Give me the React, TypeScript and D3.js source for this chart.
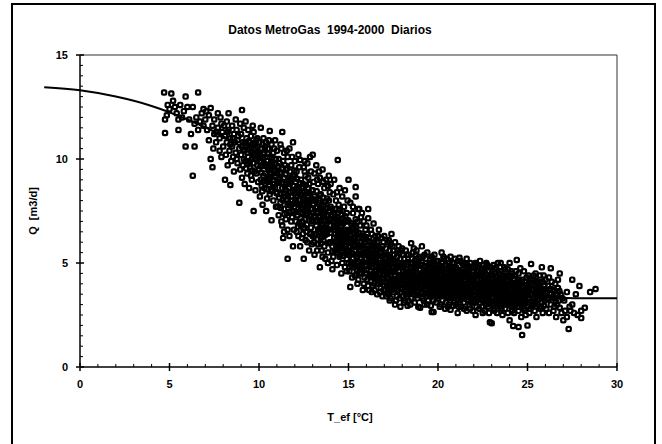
import React from "react";
import * as d3 from "d3";

const coolDays: number[][] = [
  [4.7,13.2],[4.75,11.9],[4.75,11.25],[4.9,12.6],[5.0,12.4],[4.85,12.1],
  [5.1,13.15],[5.2,12.8],[5.3,12.5],[5.4,12.2],[5.5,11.9],[5.6,12.6],[5.7,12.0],[5.9,13.0],[5.9,10.6],[5.8,12.3],[5.5,11.4],
  [6.0,12.5],[6.3,12.5],[6.2,11.2],[6.4,10.6],[6.3,9.2],[6.6,13.2],[6.5,12.0],[6.7,11.8],[6.8,12.2],[6.9,11.6],[6.1,11.9],[6.4,11.7],[6.6,11.4],[6.9,12.4],
  [7.0,11.9],[7.1,11.4],[7.2,12.1],[7.3,12.45],[7.3,10.0],[7.4,9.6],[7.4,11.6],[7.5,11.2],[7.5,11.9],[7.6,10.8],[7.7,11.5],[7.7,12.2],[7.8,11.0],[7.8,10.4],[7.9,11.7],[7.9,10.1],[7.2,10.9],[7.6,11.3],[7.95,11.3],[7.05,12.3],[7.45,10.5],[7.85,12.0],
  [8.0,10.6],[8.05,11.6],[8.1,9.0],[8.1,11.1],[8.15,10.2],[8.2,11.8],[8.2,10.8],[8.25,9.7],[8.3,12.2],[8.3,11.4],[8.35,10.4],[8.4,8.75],[8.4,11.0],[8.45,9.9],[8.5,11.6],[8.5,10.6],[8.55,10.1],[8.6,11.2],[8.6,9.4],[8.65,10.8],[8.7,11.9],[8.7,10.3],[8.75,11.4],[8.8,9.8],[8.8,10.9],[8.85,11.1],[8.9,7.9],[8.9,10.5],[8.95,11.7],[8.95,9.5],[8.25,11.3],[8.55,11.0],[8.75,10.0],[8.4,10.7],
  [9.0,11.2],[9.0,10.2],[9.05,12.35],[9.05,9.1],[9.1,10.8],[9.1,9.7],[9.15,11.5],[9.2,10.4],[9.2,8.8],[9.25,9.9],[9.3,11.0],[9.3,10.6],[9.35,9.3],[9.4,11.4],[9.4,10.1],[9.45,8.6],[9.5,10.8],[9.5,9.6],[9.55,11.1],[9.6,10.3],[9.6,9.0],[9.65,10.7],[9.7,7.5],[9.7,9.8],[9.7,11.3],[9.75,10.0],[9.8,8.5],[9.8,10.5],[9.85,9.3],[9.9,11.0],[9.9,9.7],[9.95,10.2],[9.95,8.9],[9.15,10.0],[9.35,10.3],[9.55,9.2],[9.65,11.6],[9.85,10.9],[9.25,11.8],[9.45,10.5],[9.75,9.4],[9.05,10.6],[9.6,10.0],[9.9,10.6],
];

const mildDays: number[][] = [
  [10.0,9.5],[10.0,10.8],[10.05,8.2],[10.1,11.5],[10.1,10.1],[10.1,9.0],[10.15,10.5],[10.2,7.8],[10.2,9.7],[10.25,11.0],[10.3,8.6],[10.3,10.3],[10.35,9.3],[10.4,10.8],[10.4,7.5],[10.45,9.9],[10.5,8.9],[10.5,10.5],[10.55,9.5],[10.6,11.35],[10.6,8.3],[10.6,10.1],[10.65,9.1],[10.7,7.05],[10.7,10.7],[10.75,9.7],[10.8,8.0],[10.8,10.3],[10.85,8.8],[10.9,9.4],[10.9,10.9],[10.95,7.7],[10.95,10.0],[10.05,9.9],[10.15,8.7],[10.35,10.6],[10.45,8.1],[10.55,10.9],[10.65,9.8],[10.75,8.5],[10.85,10.5],[10.25,9.2],[10.5,9.6],[10.7,9.3],[10.9,8.6],[10.2,10.7],[10.4,9.0],[10.8,9.0],[10.3,9.8],[10.6,9.7],
  [11.0,10.4],[11.0,8.4],[11.05,9.6],[11.1,7.3],[11.1,10.0],[11.15,8.9],[11.2,10.7],[11.2,7.9],[11.25,9.3],[11.3,11.3],[11.3,8.6],[11.3,6.8],[11.35,6.2],[11.35,9.9],[11.4,7.6],[11.4,10.3],[11.45,8.2],[11.5,9.5],[11.5,7.1],[11.55,8.8],[11.6,5.2],[11.6,10.1],[11.6,6.6],[11.65,9.0],[11.7,7.8],[11.7,10.5],[11.75,8.4],[11.8,9.7],[11.8,7.0],[11.85,8.0],[11.9,10.8],[11.9,5.8],[11.9,9.2],[11.95,7.5],[11.95,8.7],[11.05,7.7],[11.15,9.8],[11.25,7.0],[11.35,8.0],[11.45,9.7],[11.55,7.4],[11.65,8.6],[11.75,9.4],[11.85,7.2],[11.1,9.0],[11.2,8.3],[11.4,9.1],[11.5,8.5],[11.6,7.8],[11.7,9.1],[11.8,8.2],[11.4,6.5],[11.7,6.3],[11.0,9.3],[11.55,10.4],[11.85,10.1],[11.25,10.5],[11.95,6.6],
  [12.0,9.9],[12.0,7.9],[12.05,8.9],[12.1,6.5],[12.1,9.4],[12.15,7.3],[12.2,10.2],[12.2,8.4],[12.25,6.9],[12.3,9.95],[12.3,7.8],[12.3,5.8],[12.35,9.0],[12.4,6.2],[12.4,8.6],[12.45,7.4],[12.5,5.2],[12.5,9.6],[12.5,8.1],[12.55,6.7],[12.6,9.2],[12.6,7.1],[12.65,8.4],[12.7,6.0],[12.7,9.8],[12.75,7.6],[12.8,5.6],[12.8,8.8],[12.85,10.1],[12.85,6.4],[12.9,8.0],[12.9,9.4],[12.95,7.0],[12.95,5.9],[12.05,7.0],[12.15,8.2],[12.25,9.6],[12.35,7.6],[12.45,8.8],[12.55,9.9],[12.65,6.5],[12.75,8.6],[12.85,7.3],[12.1,8.6],[12.2,7.6],[12.4,7.0],[12.5,7.8],[12.6,8.0],[12.7,7.3],[12.8,7.9],[12.9,6.7],[12.3,8.3],[12.45,6.4],[12.6,6.1],[12.0,9.2],[12.75,9.1],[12.95,8.5],[12.2,6.3],[12.55,9.4],[12.35,6.8],[12.9,7.6],[12.05,8.0],[12.65,7.7],
  [13.0,10.2],[13.0,8.5],[13.0,6.3],[13.05,7.4],[13.1,9.3],[13.1,5.4],[13.15,8.0],[13.2,6.8],[13.2,9.7],[13.25,7.7],[13.3,5.9],[13.3,8.8],[13.35,6.5],[13.4,4.8],[13.4,9.1],[13.4,7.2],[13.45,8.3],[13.5,5.6],[13.5,6.9],[13.55,9.5],[13.6,7.8],[13.6,6.1],[13.65,8.6],[13.7,5.2],[13.7,7.0],[13.75,9.0],[13.8,6.4],[13.8,8.1],[13.85,5.5],[13.9,7.5],[13.9,9.2],[13.95,6.0],[13.95,8.4],[13.05,6.0],[13.15,7.0],[13.25,9.0],[13.35,7.9],[13.45,6.2],[13.55,7.5],[13.65,5.8],[13.75,7.6],[13.85,8.7],[13.1,8.2],[13.2,7.4],[13.3,6.6],[13.4,8.0],[13.5,7.6],[13.6,8.9],[13.7,6.7],[13.8,7.3],[13.9,6.6],[13.25,5.6],[13.55,5.3],[13.85,5.0],[13.0,7.8],[13.35,9.4],[13.65,7.3],[13.95,7.1],[13.15,6.4],[13.45,7.0],[13.75,6.9],[13.05,8.9],[13.6,6.6],[13.9,8.0],
  [14.0,8.8],[14.0,6.8],[14.05,5.1],[14.1,4.7],[14.1,7.6],[14.15,8.3],[14.2,6.2],[14.2,9.0],[14.25,5.6],[14.3,7.1],[14.3,8.0],[14.35,4.9],[14.4,9.95],[14.4,6.5],[14.45,7.8],[14.5,5.3],[14.5,8.6],[14.55,6.0],[14.6,7.3],[14.6,4.5],[14.65,8.2],[14.7,5.7],[14.7,6.9],[14.75,7.7],[14.8,4.8],[14.8,8.5],[14.85,6.3],[14.9,5.2],[14.9,7.4],[14.95,6.6],[14.95,8.0],[14.05,7.3],[14.15,6.0],[14.25,7.6],[14.35,6.7],[14.45,5.8],[14.55,7.0],[14.65,5.0],[14.75,6.0],[14.85,7.0],[14.1,5.8],[14.2,7.0],[14.3,5.9],[14.4,7.4],[14.5,6.4],[14.6,6.8],[14.7,6.3],[14.8,5.5],[14.9,6.0],[14.0,6.0],[14.35,8.4],[14.65,7.5],[14.95,5.6],[14.25,6.6],[14.55,5.4],[14.85,5.8],[14.15,5.3],[14.45,6.9],[14.75,6.6],[14.0,7.7],[14.6,5.9],[14.4,5.5],[14.9,4.6],
];

const warmDays: number[][] = [
  [15.0,9.0],[15.0,7.0],[15.0,5.0],[15.05,6.1],[15.1,3.85],[15.1,7.9],[15.15,5.5],[15.2,6.7],[15.2,4.3],[15.25,7.4],[15.3,5.8],[15.3,4.8],[15.35,6.4],[15.4,8.65],[15.4,8.2],[15.4,7.1],[15.45,5.2],[15.5,6.0],[15.5,4.0],[15.55,7.6],[15.6,5.6],[15.6,4.5],[15.65,6.8],[15.7,5.0],[15.7,7.2],[15.75,6.3],[15.8,3.7],[15.8,5.4],[15.85,7.0],[15.9,4.3],[15.9,6.0],[15.95,4.9],[15.95,6.6],[15.05,4.6],[15.15,6.9],[15.25,5.2],[15.35,4.4],[15.45,6.5],[15.55,5.0],[15.65,5.8],[15.75,4.7],[15.85,5.5],[15.1,5.8],[15.2,5.0],[15.3,6.2],[15.4,5.6],[15.5,5.3],[15.6,6.2],[15.7,4.5],[15.8,6.4],[15.9,5.2],[15.0,6.5],[15.25,7.7],[15.5,7.0],[15.75,7.4],[15.15,4.9],[15.35,5.9],[15.55,4.2],[15.85,4.0],[15.45,4.7],[15.65,4.9],[15.95,5.7],[15.05,5.4],[15.6,7.6],[15.3,6.8],
  [16.0,6.8],[16.0,4.5],[16.05,5.6],[16.1,7.6],[16.1,7.15],[16.1,3.9],[16.15,6.2],[16.2,4.9],[16.2,5.3],[16.25,6.6],[16.3,3.6],[16.3,5.9],[16.35,4.3],[16.4,6.9],[16.4,5.1],[16.45,4.0],[16.5,6.3],[16.5,5.5],[16.55,4.6],[16.6,3.5],[16.6,6.0],[16.65,5.0],[16.7,4.2],[16.7,6.6],[16.75,5.7],[16.8,3.8],[16.8,4.8],[16.85,6.2],[16.9,3.4],[16.9,5.3],[16.95,4.4],[16.95,6.0],[16.05,4.2],[16.15,5.0],[16.25,4.6],[16.35,5.6],[16.45,6.0],[16.55,5.2],[16.65,4.0],[16.75,4.5],[16.85,5.0],[16.1,5.7],[16.2,6.0],[16.3,4.8],[16.4,4.5],[16.5,4.9],[16.6,5.4],[16.7,4.7],[16.8,5.5],[16.9,4.7],[16.0,5.2],[16.3,6.4],[16.6,4.3],[16.9,5.8],[16.15,3.7],[16.45,3.7],[16.75,3.6],[16.25,5.4],[16.55,5.8],[16.85,4.1],[16.05,6.4],[16.35,3.9],[16.65,6.3],[16.95,3.7],
  [17.0,6.3],[17.0,4.1],[17.05,5.0],[17.1,3.4],[17.1,5.7],[17.15,4.5],[17.2,6.0],[17.2,3.8],[17.25,5.3],[17.3,4.8],[17.3,3.2],[17.35,5.9],[17.4,6.4],[17.4,4.2],[17.45,5.1],[17.5,3.6],[17.5,5.6],[17.55,4.6],[17.6,3.0],[17.6,6.0],[17.65,4.0],[17.7,5.3],[17.7,3.4],[17.75,4.8],[17.8,5.8],[17.8,3.9],[17.85,4.4],[17.9,2.9],[17.9,5.2],[17.95,3.6],[17.95,4.9],[17.05,4.6],[17.15,5.4],[17.25,3.5],[17.35,4.4],[17.45,3.9],[17.55,5.4],[17.65,4.9],[17.75,3.7],[17.85,5.5],[17.1,4.9],[17.2,4.3],[17.3,5.6],[17.4,3.7],[17.5,4.8],[17.6,4.4],[17.7,4.1],[17.8,4.6],[17.9,4.0],[17.0,5.4],[17.25,6.1],[17.5,4.2],[17.75,5.6],[17.15,3.9],[17.45,5.8],[17.65,3.2],[17.85,3.3],[17.35,3.3],[17.05,3.7],[17.55,3.8],[17.95,5.6],[17.3,4.1],[17.6,5.1],
  [18.0,5.7],[18.0,3.8],[18.05,4.6],[18.1,3.1],[18.1,5.2],[18.15,4.2],[18.2,5.6],[18.2,3.5],[18.25,4.9],[18.3,4.0],[18.3,2.95],[18.35,5.4],[18.4,3.7],[18.4,4.6],[18.45,5.0],[18.5,5.95],[18.5,3.3],[18.55,4.3],[18.6,5.5],[18.6,3.9],[18.65,4.8],[18.7,3.1],[18.7,5.1],[18.75,4.1],[18.8,3.6],[18.8,5.6],[18.85,4.5],[18.9,2.9],[18.9,4.9],[18.95,3.8],[18.95,5.3],[18.05,3.4],[18.15,5.0],[18.25,3.7],[18.35,4.4],[18.45,3.6],[18.55,5.2],[18.65,3.5],[18.75,4.7],[18.85,3.3],[18.1,4.4],[18.2,4.0],[18.3,4.7],[18.4,4.1],[18.5,4.4],[18.6,4.2],[18.7,4.4],[18.8,4.2],[18.9,4.1],[18.0,4.9],[18.25,5.4],[18.5,5.0],[18.75,5.4],[18.95,4.4],[18.15,3.2],[18.45,3.0],[18.65,5.7],[18.85,5.0],[18.35,3.2],[18.05,5.4],[18.55,3.6],[18.8,3.9],
  [19.0,2.85],[19.0,4.5],[19.05,3.6],[19.1,5.8],[19.1,5.1],[19.15,4.0],[19.2,3.2],[19.2,4.8],[19.25,5.4],[19.3,3.7],[19.3,4.3],[19.35,5.0],[19.4,3.0],[19.4,5.5],[19.45,4.1],[19.5,3.5],[19.5,4.7],[19.55,5.2],[19.6,3.9],[19.6,2.95],[19.65,4.4],[19.65,2.65],[19.75,2.65],[19.7,5.0],[19.7,3.4],[19.75,4.2],[19.8,5.4],[19.8,3.7],[19.85,4.6],[19.9,3.1],[19.9,5.1],[19.95,4.0],[19.05,4.9],[19.15,3.3],[19.25,4.5],[19.35,3.4],[19.45,4.8],[19.55,3.8],[19.65,5.3],[19.75,3.2],[19.85,4.9],[19.1,4.2],[19.2,3.9],[19.3,4.6],[19.4,4.0],[19.5,4.3],[19.6,4.6],[19.7,3.8],[19.8,4.3],[19.9,3.6],[19.0,5.2],[19.95,4.7],[19.45,3.2],[19.15,5.3],[19.35,4.2],[19.55,4.1],[19.75,4.8],[19.95,3.4],[19.25,3.0],[19.05,4.1],[19.85,4.1],[19.6,5.0],
];

const hotDays: number[][] = [
  [20.0,5.1],[20.0,3.3],[20.05,4.3],[20.1,2.9],[20.1,4.8],[20.15,3.8],[20.2,5.5],[20.2,4.1],[20.25,3.2],[20.3,4.6],[20.3,5.3],[20.35,3.6],[20.4,2.8],[20.4,4.9],[20.45,4.0],[20.5,3.4],[20.5,5.2],[20.55,4.4],[20.6,3.0],[20.6,4.7],[20.65,3.8],[20.7,5.3],[20.7,2.75],[20.75,4.2],[20.8,3.5],[20.8,5.0],[20.85,3.9],[20.9,4.5],[20.9,3.1],[20.95,5.2],[20.95,3.7],[20.05,3.6],[20.15,4.5],[20.25,5.0],[20.35,4.3],[20.45,3.1],[20.55,3.7],[20.65,5.0],[20.75,3.3],[20.85,4.7],[20.1,4.0],[20.2,3.5],[20.3,3.9],[20.4,4.2],[20.5,3.8],[20.6,4.1],[20.7,3.6],[20.8,4.3],[20.9,4.0],[20.0,4.6],[20.35,5.2],[20.65,4.4],[20.95,4.4],[20.15,3.0],[20.45,4.7],[20.75,4.8],[20.55,2.9],[20.25,4.3],[20.85,2.95],[20.05,4.9],[20.6,3.4],[20.9,3.4],
  [21.0,3.0],[21.0,4.8],[21.05,3.9],[21.1,2.6],[21.1,5.1],[21.15,4.3],[21.2,5.25],[21.2,3.4],[21.25,4.6],[21.3,2.9],[21.3,4.0],[21.35,5.0],[21.4,3.6],[21.4,4.4],[21.45,3.1],[21.5,4.9],[21.5,3.8],[21.55,4.2],[21.6,2.7],[21.6,5.2],[21.65,3.5],[21.7,4.6],[21.7,3.2],[21.75,4.0],[21.8,5.0],[21.8,2.8],[21.85,3.7],[21.9,4.4],[21.9,3.3],[21.95,4.8],[21.95,2.7],[21.05,3.4],[21.15,3.7],[21.25,3.2],[21.35,4.7],[21.45,4.0],[21.55,3.4],[21.65,4.3],[21.75,3.0],[21.85,4.1],[21.1,4.5],[21.2,4.0],[21.3,4.3],[21.4,3.9],[21.5,3.5],[21.6,4.0],[21.7,3.9],[21.8,3.5],[21.9,3.9],[21.0,4.2],[21.25,5.1],[21.5,4.5],[21.75,4.7],[21.95,4.1],[21.15,2.9],[21.45,2.8],[21.65,4.9],[21.85,3.1],[21.35,3.5],[21.05,4.7],[21.55,4.8],[21.8,4.3],
  [22.0,4.6],[22.0,3.1],[22.05,3.9],[22.1,2.5],[22.1,5.0],[22.15,4.2],[22.2,3.3],[22.2,4.8],[22.25,3.7],[22.3,2.8],[22.3,4.4],[22.35,5.1],[22.4,3.5],[22.4,4.0],[22.45,2.9],[22.5,4.7],[22.5,3.2],[22.55,4.3],[22.6,4.75],[22.6,2.7],[22.65,3.6],[22.7,5.0],[22.7,3.0],[22.75,4.1],[22.8,3.4],[22.8,4.6],[22.85,2.6],[22.9,2.15],[22.9,3.8],[22.95,4.4],[22.95,3.1],[22.05,3.4],[22.15,2.9],[22.25,4.6],[22.35,3.1],[22.45,4.2],[22.55,3.7],[22.65,4.5],[22.75,3.3],[22.85,4.8],[22.1,3.6],[22.2,4.0],[22.3,3.5],[22.4,4.5],[22.5,3.9],[22.6,4.0],[22.7,3.7],[22.8,4.0],[22.9,3.5],[22.0,4.2],[22.25,4.9],[22.5,2.6],[22.75,4.9],[22.95,4.8],[22.15,4.6],[22.45,3.6],[22.65,3.3],[22.85,4.3],[22.35,3.8],[22.55,4.9],[22.05,4.9],[22.8,2.9],
  [23.0,2.1],[23.0,4.5],[23.05,3.5],[23.1,2.8],[23.1,4.9],[23.15,4.1],[23.2,3.2],[23.2,4.7],[23.25,3.8],[23.3,2.6],[23.3,4.3],[23.35,5.0],[23.4,3.4],[23.4,3.9],[23.45,2.9],[23.5,5.0],[23.5,4.6],[23.55,3.6],[23.6,2.5],[23.6,4.2],[23.65,3.1],[23.7,4.8],[23.7,3.7],[23.75,2.8],[23.8,4.4],[23.8,3.3],[23.85,4.0],[23.9,2.6],[23.9,4.7],[23.95,3.5],[23.95,3.0],[23.05,4.2],[23.15,2.7],[23.25,4.8],[23.35,3.0],[23.45,4.5],[23.55,3.3],[23.65,4.4],[23.75,3.6],[23.85,3.0],[23.1,3.7],[23.2,4.0],[23.3,3.5],[23.4,4.5],[23.5,3.8],[23.6,3.9],[23.7,3.4],[23.8,3.9],[23.9,4.2],[23.0,3.9],[23.25,3.3],[23.45,4.1],[23.65,4.0],[23.85,3.7],[23.15,4.5],[23.55,2.8],[23.75,4.7],[23.95,4.4],[23.35,4.2],[23.05,3.0],
  [24.0,5.0],[24.0,2.25],[24.0,3.6],[24.05,4.3],[24.1,2.9],[24.1,4.6],[24.15,3.3],[24.2,1.97],[24.2,4.0],[24.25,2.6],[24.3,3.7],[24.3,4.4],[24.35,3.0],[24.4,5.15],[24.4,3.4],[24.45,4.1],[24.5,1.92],[24.5,2.7],[24.5,4.5],[24.55,3.8],[24.6,4.75],[24.6,3.1],[24.65,2.4],[24.7,1.54],[24.7,4.2],[24.75,3.5],[24.8,2.8],[24.8,4.6],[24.85,3.9],[24.9,3.2],[24.9,2.5],[24.95,4.3],[24.95,3.6],[24.05,3.0],[24.15,4.5],[24.25,3.9],[24.35,4.6],[24.45,2.9],[24.55,3.3],[24.65,4.0],[24.75,3.0],[24.85,4.1],[24.1,3.8],[24.2,3.5],[24.3,3.2],[24.4,3.9],[24.5,3.6],[24.6,3.5],[24.7,3.7],[24.8,3.4],[24.9,3.8],[24.25,4.2],[24.55,4.2],[24.85,2.7],[24.15,2.7],[24.45,3.2],
];

const hottestDays: number[][] = [
  [25.0,2.0],[25.0,3.8],[25.05,4.4],[25.1,3.1],[25.1,2.6],[25.15,4.0],[25.2,4.95],[25.2,3.5],[25.25,2.9],[25.3,4.2],[25.35,3.3],[25.4,2.7],[25.4,3.9],[25.45,4.5],[25.5,2.4],[25.5,3.6],[25.55,3.0],[25.6,4.1],[25.65,3.4],[25.7,2.8],[25.7,4.4],[25.75,3.7],[25.8,4.8],[25.8,3.1],[25.85,2.6],[25.9,4.4],[25.9,3.5],[25.95,3.9],[25.05,3.3],[25.25,3.7],[25.45,3.2],[25.65,3.8],[25.85,4.1],[25.15,2.8],[25.35,4.4],[25.55,4.0],[25.75,2.9],[25.95,3.2],[25.3,3.0],[25.6,3.6],
  [26.0,3.6],[26.0,4.2],[26.05,2.8],[26.1,3.3],[26.15,3.9],[26.2,2.6],[26.25,3.5],[26.3,4.75],[26.3,3.0],[26.35,4.1],[26.4,3.7],[26.45,2.7],[26.5,3.3],[26.55,4.0],[26.6,2.4],[26.6,3.5],[26.65,3.0],[26.7,3.8],[26.75,3.2],[26.8,4.5],[26.8,2.85],[26.85,3.5],[26.9,2.6],[26.95,3.3],[26.2,4.3],[26.5,2.9],[26.7,4.2],
  [27.0,2.25],[27.05,3.2],[27.1,2.7],[27.2,3.6],[27.2,2.4],[27.3,1.83],[27.35,2.9],[27.4,2.7],[27.5,4.2],[27.5,3.0],[27.6,2.6],[27.7,3.5],[27.8,2.5],[27.9,3.9],[28.0,2.7],[28.0,2.35],[28.2,2.85],[28.5,3.6],[28.8,3.75],
];

// the packed middle of the band, where the scan is solid black
const coreDays: number[][] = [
  [9.12,10.45],[9.28,9.55],[9.42,10.85],[9.58,10.55],[9.72,10.25],[9.88,9.95],[9.22,10.75],[9.48,9.85],[9.78,10.75],[9.38,9.75],[9.62,9.45],[9.92,10.35],
  [10.02,10.25],[10.12,9.35],[10.22,10.05],[10.28,8.95],[10.38,9.65],[10.48,10.25],[10.58,8.75],[10.62,9.35],[10.72,10.05],[10.78,8.65],[10.88,9.75],[10.92,9.15],[10.18,8.45],[10.42,8.55],[10.52,9.05],[10.68,8.45],[10.82,9.45],[10.98,8.35],[10.32,10.45],[10.08,9.65],
  [11.02,8.85],[11.08,9.65],[11.12,8.15],[11.18,9.35],[11.22,7.65],[11.28,8.85],[11.32,9.55],[11.38,8.35],[11.42,7.35],[11.48,9.25],[11.52,8.05],[11.58,9.55],[11.62,8.25],[11.68,7.45],[11.72,8.85],[11.78,7.75],[11.82,9.05],[11.88,8.45],[11.92,7.85],[11.98,9.45],[11.45,8.65],[11.75,8.95],
  [12.02,8.35],[12.08,7.45],[12.12,9.05],[12.18,6.75],[12.22,8.05],[12.28,8.85],[12.32,7.15],[12.38,8.25],[12.42,7.85],[12.48,6.65],[12.52,8.45],[12.58,7.35],[12.62,8.75],[12.68,6.85],[12.72,7.95],[12.78,7.05],[12.82,8.35],[12.88,6.45],[12.92,7.25],[12.98,8.05],[12.15,7.85],[12.45,7.65],[12.75,8.25],[12.25,8.55],
  [13.02,7.05],[13.08,8.05],[13.12,6.35],[13.18,7.65],[13.22,8.45],[13.28,6.15],[13.32,7.25],[13.38,8.25],[13.42,6.65],[13.48,7.75],[13.52,6.25],[13.58,8.15],[13.62,7.05],[13.68,6.35],[13.72,7.95],[13.78,6.65],[13.82,7.65],[13.88,5.95],[13.92,7.05],[13.98,6.45],[13.25,7.05],[13.55,6.85],[13.85,7.25],[13.45,5.95],
  [14.02,6.45],[14.08,7.25],[14.12,5.55],[14.18,6.75],[14.22,7.35],[14.28,6.05],[14.32,6.85],[14.38,5.65],[14.42,7.05],[14.48,6.25],[14.52,7.55],[14.58,5.75],[14.62,6.55],[14.68,7.15],[14.72,5.35],[14.78,6.35],[14.82,7.25],[14.88,5.45],[14.92,6.45],[14.98,7.05],[14.35,6.25],[14.65,6.05],[14.95,6.25],[14.25,7.15],
  [15.02,5.75],[15.08,6.55],[15.12,5.05],[15.18,6.15],[15.22,5.45],[15.28,6.45],[15.32,4.95],[15.38,5.85],[15.42,6.75],[15.48,5.05],[15.52,5.75],[15.58,6.45],[15.62,4.75],[15.68,5.45],[15.72,6.25],[15.78,5.05],[15.82,5.85],[15.88,4.65],[15.92,5.45],[15.98,6.25],[15.25,6.05],[15.55,5.45],[15.85,6.15],[15.45,4.45],
  [16.02,4.85],[16.08,5.45],[16.12,6.05],[16.18,4.45],[16.22,5.65],[16.28,5.05],[16.32,4.35],[16.38,5.25],[16.42,5.85],[16.48,4.25],[16.52,5.05],[16.58,4.85],[16.62,5.65],[16.68,4.45],[16.72,5.15],[16.78,4.05],[16.82,4.65],[16.88,5.35],[16.92,4.25],[16.98,5.05],[16.25,4.15],[16.55,4.45],[16.85,5.65],[16.15,5.35],
  [17.02,4.45],[17.08,5.25],[17.12,4.05],[17.18,4.75],[17.22,5.05],[17.28,3.85],[17.32,4.55],[17.38,5.15],[17.42,4.05],[17.48,4.55],[17.52,5.05],[17.58,3.75],[17.62,4.65],[17.68,4.25],[17.72,5.05],[17.78,3.95],[17.82,4.35],[17.88,4.85],[17.92,3.75],[17.98,4.35],[17.25,4.25],[17.55,4.15],[17.85,4.15],[17.15,3.55],
  [18.02,4.25],[18.08,4.85],[18.12,3.65],[18.18,4.55],[18.22,3.85],[18.28,4.35],[18.32,5.05],[18.38,3.55],[18.42,4.35],[18.48,4.75],[18.52,3.75],[18.58,4.05],[18.62,4.65],[18.68,3.75],[18.72,4.25],[18.78,4.95],[18.82,3.45],[18.88,4.35],[18.92,3.65],[18.98,4.65],[18.25,4.15],[18.55,4.55],[18.85,3.85],[18.45,3.85],
  [19.02,3.85],[19.08,4.35],[19.12,3.55],[19.18,4.55],[19.22,4.05],[19.28,3.55],[19.32,4.85],[19.38,3.75],[19.42,4.45],[19.48,3.85],[19.52,4.95],[19.58,3.45],[19.62,4.25],[19.68,4.65],[19.72,3.55],[19.78,4.05],[19.82,4.75],[19.88,3.85],[19.92,4.35],[19.98,3.75],[19.25,4.25],[19.55,4.55],[19.85,3.45],[19.45,3.55],
  [20.02,3.95],[20.08,4.45],[20.12,3.45],[20.18,4.25],[20.22,4.75],[20.28,3.45],[20.32,4.15],[20.38,3.85],[20.42,4.55],[20.48,3.55],[20.52,4.15],[20.58,4.85],[20.62,3.65],[20.68,4.15],[20.72,3.35],[20.78,4.55],[20.82,3.75],[20.88,4.25],[20.92,3.55],[20.98,4.05],[20.25,3.75],[20.55,3.35],[20.85,4.45],[20.45,4.35],
  [21.02,3.75],[21.08,4.25],[21.12,3.25],[21.18,4.05],[21.22,4.55],[21.28,3.55],[21.32,3.85],[21.38,4.35],[21.42,3.35],[21.48,4.15],[21.52,3.65],[21.58,4.55],[21.62,3.25],[21.68,3.75],[21.72,4.35],[21.78,3.35],[21.82,4.05],[21.88,3.55],[21.92,4.25],[21.98,3.45],[21.25,3.85],[21.55,3.95],[21.85,3.85],[21.45,4.55],
  [22.02,3.65],[22.08,4.35],[22.12,3.15],[22.18,3.85],[22.22,4.45],[22.28,3.25],[22.32,3.95],[22.38,4.25],[22.42,3.25],[22.48,3.75],[22.52,4.45],[22.58,3.45],[22.62,3.85],[22.68,4.25],[22.72,3.15],[22.78,3.65],[22.82,4.25],[22.88,3.25],[22.92,3.95],[22.98,3.55],[22.25,3.45],[22.55,4.05],[22.85,3.65],[22.45,4.65],
  [23.02,3.35],[23.08,4.05],[23.12,3.05],[23.18,3.75],[23.22,4.35],[23.28,3.15],[23.32,3.75],[23.38,4.05],[23.42,3.15],[23.48,3.55],[23.52,4.25],[23.58,3.15],[23.62,3.65],[23.68,4.15],[23.72,3.05],[23.78,3.55],[23.82,4.15],[23.88,3.25],[23.92,3.85],[23.98,3.25],[23.25,3.55],[23.55,3.95],[23.85,3.45],[23.45,3.35],
  [24.02,3.35],[24.08,3.95],[24.12,3.05],[24.18,3.75],[24.22,4.25],[24.28,2.95],[24.32,3.55],[24.38,3.85],[24.42,3.15],[24.48,3.45],[24.52,4.05],[24.58,3.05],[24.62,3.75],[24.68,3.25],[24.72,3.95],[24.78,3.15],[24.82,3.65],[24.88,3.05],[24.92,3.45],[24.98,3.95],[24.25,3.45],[24.55,3.55],[24.85,3.25],
  [25.02,3.45],[25.12,3.75],[25.22,3.15],[25.28,3.95],[25.38,3.55],[25.42,3.05],[25.52,3.85],[25.58,3.25],[25.68,3.55],[25.72,4.05],[25.82,3.35],[25.88,3.75],[25.18,4.25],[25.48,4.15],[25.78,3.45],[25.92,2.95],
  [26.08,3.55],[26.18,3.25],[26.28,3.75],[26.38,3.35],[26.48,3.65],[26.58,3.15],[26.68,3.45],[26.78,3.65],
];

// fitted curve, read at 2 °C steps
const curveT = [-2, 0, 2, 4, 6, 8, 10, 12, 14, 16, 18, 20, 22, 24, 26, 28, 30];
const curveQ = [13.45, 13.3, 13.0, 12.55, 11.9, 11.1, 10.0, 8.5, 7.0, 5.7, 4.7, 4.05, 3.7, 3.45, 3.35, 3.3, 3.3];

const xTicks = [0, 5, 10, 15, 20, 25, 30];
const yTicks = [0, 5, 10, 15];

const W = 662;
const H = 444;
const plot = { left: 80, right: 617, top: 55, bottom: 367 };
const font = "Arial, 'Liberation Sans', sans-serif";

export default function App() {
  const x = d3.scaleLinear().domain([0, 30]).range([plot.left, plot.right]);
  const y = d3.scaleLinear().domain([0, 15]).range([plot.bottom, plot.top]);

  const points = [...coreDays, ...coolDays, ...mildDays, ...warmDays, ...hotDays, ...hottestDays];
  const curve = d3
    .line<number>()
    .x((t) => x(t))
    .y((_, i) => y(curveQ[i]))
    .curve(d3.curveMonotoneX)(curveT);

  const minorX = d3.range(0, 31, 1).filter((v) => v % 5 !== 0);
  const minorY = d3.range(0, 15.01, 0.5).filter((v) => v % 5 !== 0);
  const m = 4.3; // marker size (inside the stroke)

  return (
    <svg width={W} height={H} style={{ position: "absolute", left: 0, top: 0, background: "#fff" }}>
      <rect x={12} y={4} width={643} height={460} fill="none" stroke="#000" strokeWidth={2} />
      <text x={330} y={34} textAnchor="middle" fontFamily={font} fontWeight="bold" fontSize={12} style={{ whiteSpace: "pre" }}>
        {"Datos MetroGas  1994-2000  Diarios"}
      </text>

      {/* plot frame top and right */}
      <line x1={plot.left} x2={plot.right} y1={plot.top} y2={plot.top} stroke="#333" strokeWidth={1} />
      <line x1={plot.right} x2={plot.right} y1={plot.top} y2={plot.bottom} stroke="#333" strokeWidth={1} />

      {/* points: open markers, so overlapping strokes build up the dark band */}
      <g fill="none" stroke="#000" strokeWidth={2.2}>
        {points.map((d, i) => (
          <rect key={i} x={x(d[0]) - m / 2} y={y(d[1]) - m / 2} width={m} height={m} rx={1.4} />
        ))}
      </g>

      <path d={curve || ""} fill="none" stroke="#000" strokeWidth={2} />

      {/* axes */}
      <line x1={plot.left} x2={plot.left} y1={plot.top} y2={plot.bottom} stroke="#000" strokeWidth={1.5} />
      <line x1={plot.left} x2={plot.right} y1={plot.bottom} y2={plot.bottom} stroke="#000" strokeWidth={1.5} />
      {minorY.map((v) => (
        <line key={"my" + v} x1={plot.left} x2={plot.left + 3} y1={y(v)} y2={y(v)} stroke="#000" strokeWidth={1} />
      ))}
      {minorX.map((v) => (
        <line key={"mx" + v} x1={x(v)} x2={x(v)} y1={plot.bottom} y2={plot.bottom - 3} stroke="#000" strokeWidth={1} />
      ))}
      {yTicks.map((v) => (
        <g key={"y" + v}>
          <line x1={plot.left - 4} x2={plot.left + 4} y1={y(v)} y2={y(v)} stroke="#000" strokeWidth={1.5} />
          <text x={plot.left - 12} y={y(v) + 4} textAnchor="end" fontFamily={font} fontWeight="bold" fontSize={11}>
            {v}
          </text>
        </g>
      ))}
      {xTicks.map((v) => (
        <g key={"x" + v}>
          <line x1={x(v)} x2={x(v)} y1={plot.bottom - 4} y2={plot.bottom + 4} stroke="#000" strokeWidth={1.5} />
          <text x={x(v)} y={plot.bottom + 21} textAnchor="middle" fontFamily={font} fontWeight="bold" fontSize={11}>
            {v}
          </text>
        </g>
      ))}

      <text
        transform={`translate(37,${(plot.top + plot.bottom) / 2}) rotate(-90)`}
        textAnchor="middle"
        fontFamily={font}
        fontWeight="bold"
        fontSize={11}
        style={{ whiteSpace: "pre" }}
      >
        {"Q  [m3/d]"}
      </text>
      <text x={350} y={421} textAnchor="middle" fontFamily={font} fontWeight="bold" fontSize={11}>
        T_ef [°C]
      </text>
    </svg>
  );
}
